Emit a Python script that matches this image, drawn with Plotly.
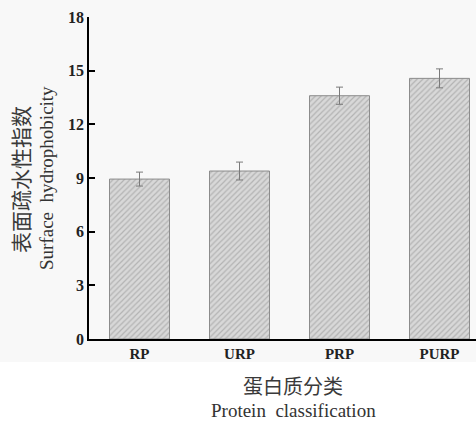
import plotly.graph_objects as go

# Surface hydrophobicity by protein class
categories = ["RP", "URP", "PRP", "PURP"]
values = [8.94, 9.39, 13.6, 14.57]
errors = [0.39, 0.50, 0.48, 0.53]
y_ticks = [0, 3, 6, 9, 12, 15, 18]

W, H = 476, 421
L, R, T, B = 89, 0, 17, 82
pw, ph = W - L - R, H - T - B

def px_x(px):
    return (px - L) / pw

def px_y(py):
    return (H - B - py) / ph

serif = "Liberation Serif, Times New Roman, Noto Sans CJK SC, serif"
cjk = "Noto Sans CJK SC, Liberation Serif, serif"

fig = go.Figure()
fig.add_trace(go.Bar(
    x=list(range(len(categories))),
    y=values,
    width=0.6,
    marker=dict(
        color="#d8d8d8",
        line=dict(color="#8c8c8c", width=1),
        pattern=dict(shape="/", size=4, solidity=0.3,
                     fgcolor="#8e8e8e", bgcolor="#d8d8d8"),
    ),
    error_y=dict(type="data", array=errors, visible=True,
                 color="#7a7a7a", thickness=1, width=3.5),
    showlegend=False,
))

fig.update_layout(
    width=W, height=H,
    margin=dict(l=L, r=R, t=T, b=B),
    paper_bgcolor="white",
    plot_bgcolor="rgba(0,0,0,0)",
    bargap=0.4,
    xaxis=dict(
        range=[-0.505, 3.365],
        tickmode="array",
        tickvals=list(range(len(categories))),
        ticktext=[f"<b>{c}</b>" for c in categories],
        tickfont=dict(family=serif, size=15, color="#222"),
        showline=True, linecolor="black", linewidth=2,
        ticks="", showgrid=False, zeroline=False,
    ),
    yaxis=dict(
        range=[0, 18],
        tickmode="array",
        tickvals=y_ticks,
        ticktext=[f"<b>{v}</b>" for v in y_ticks],
        tickfont=dict(family=serif, size=16, color="#222"),
        showline=True, linecolor="black", linewidth=1.5,
        ticks="inside", ticklen=6, tickwidth=1.5, tickcolor="black",
        showgrid=False, zeroline=False,
    ),
    shapes=[dict(
        type="rect", xref="paper", yref="paper", layer="below",
        x0=px_x(0), x1=1.0, y0=px_y(362), y1=px_y(0),
        fillcolor="#f8f8f8", line=dict(width=0),
    )],
    annotations=[
        dict(text="表面疏水性指数", xref="paper", yref="paper",
             x=px_x(20), y=px_y(180), textangle=-90, showarrow=False,
             xanchor="center", yanchor="middle",
             font=dict(family=cjk, size=21, color="#3a3a3a")),
        dict(text="Surface\u00a0\u00a0hydrophobicity", xref="paper", yref="paper",
             x=px_x(46), y=px_y(178), textangle=-90, showarrow=False,
             xanchor="center", yanchor="middle",
             font=dict(family=serif, size=19, color="#333")),
        dict(text="蛋白质分类", xref="paper", yref="paper",
             x=px_x(293), y=px_y(385), showarrow=False,
             xanchor="center", yanchor="middle",
             font=dict(family=cjk, size=20, color="#3a3a3a")),
        dict(text="Protein\u00a0\u00a0classification", xref="paper", yref="paper",
             x=px_x(293), y=px_y(410), showarrow=False,
             xanchor="center", yanchor="middle",
             font=dict(family=serif, size=19, color="#333")),
    ],
)

fig.write_html("out.html")
